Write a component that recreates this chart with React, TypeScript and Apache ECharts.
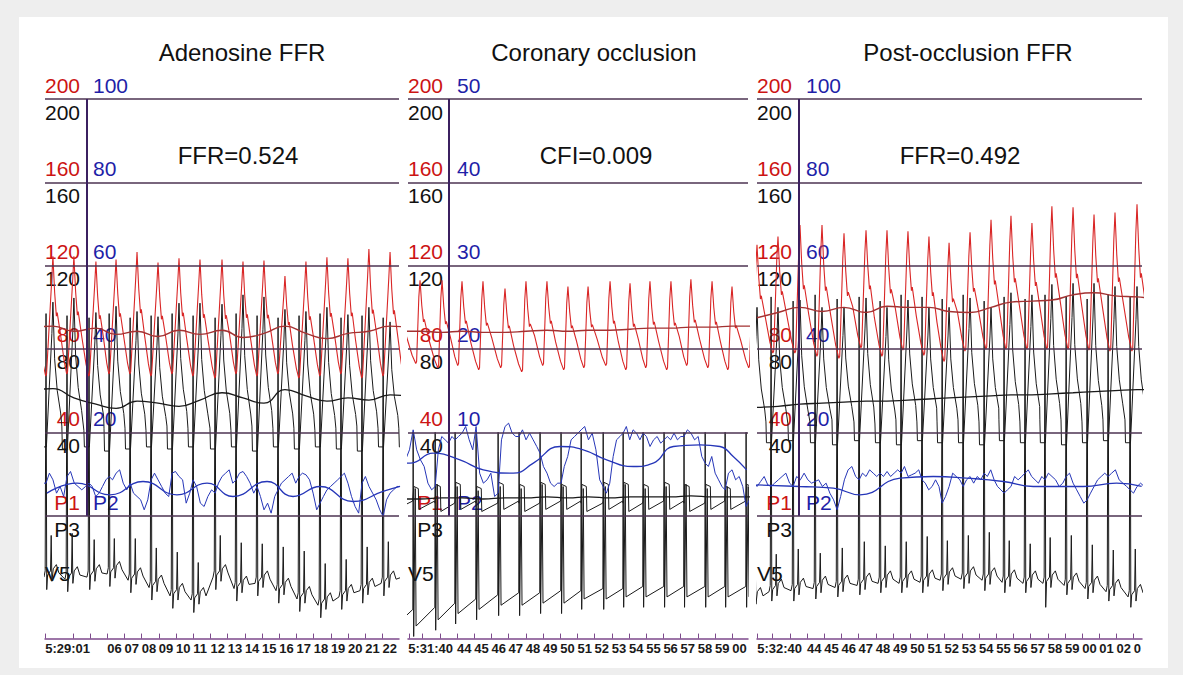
import React, { useEffect, useRef } from "react";
import * as echarts from "echarts";

const W = 1183;
const H = 675;
const FONT = '"Liberation Sans", Arial, Helvetica, sans-serif';
const GRID_TOP = 99;
const Y_MIN = -59;
const Y_MAX = 200;
const PX_PER_UNIT = 2.0833;
const GRID_H = (Y_MAX - Y_MIN) * PX_PER_UNIT;
const R_OFFSET = 0.4;

// ---------- shared labels ----------
const TITLES = ["Adenosine FFR", "Coronary occlusion", "Post-occlusion FFR"];
const INDEX_TEXT = ["FFR=0.524", "CFI=0.009", "FFR=0.492"];
const PRESSURE_TICKS = [200, 160, 120, 80, 40];
const RED_LABELS = ["200", "160", "120", "80", "40"];
const BLACK_LABELS = ["200", "160", "120", "80", "40"];
const BLUE_LABELS_1 = ["100", "80", "60", "40", "20"];
const BLUE_LABELS_2 = ["50", "40", "30", "20", "10"];
const BLUE_LABELS_3 = ["100", "80", "60", "40", "20"];

// ---------- panel 1: Adenosine FFR ----------
const P1_TP = [1.62, 2.84, 4.06, 5.34, 6.51, 7.73, 8.95, 10.17, 11.39, 12.67, 13.89, 15.11, 16.33, 17.55, 18.77, 19.99, 21.21, 22.44, 23.65];
const P1_PA_SYS = [122, 124.5, 124.5, 122, 123, 126.5, 121.5, 123.5, 123, 123, 122, 122.5, 115, 122, 124, 123.5, 128, 126.5, 124];
const P1_PA_DIA = [68, 67, 68, 67, 68, 68, 67, 68, 67, 66, 68, 67, 68, 66, 67, 68, 66, 67, 67];
const P1_PA_MEAN = [90, 91, 88.5, 90, 87, 88.5, 86, 89, 87, 89, 85.5, 87.5, 91, 87.5, 85, 87.5, 88.5, 91, 90];
const P1_PD_SYS = [100, 102.5, 104.5, 97.5, 100.5, 98, 95.5, 102, 102, 101.5, 106, 105, 99, 98, 100, 96.5, 100, 93, 98];
const P1_PD_DIP = [33, 33, 32, 33, 31, 32, 33, 32, 33, 32, 33, 31, 33, 32, 33, 32, 31, 33, 33];
const P1_PD_PLAT = [43, 42, 43, 41, 42, 42, 41, 43, 42, 42, 41, 43, 42, 42, 41, 42, 43, 42, 42];
const P1_PD_MEAN = [60, 61, 56.5, 53.5, 51.5, 55, 54, 52.5, 55.5, 59, 56.5, 54, 60.5, 57.5, 55, 56.5, 55.5, 58, 57];
const P1_ECG_BASE = [-27.5, -27.5, -28.5, -27.5, -26, -29, -32.5, -36.5, -38.5, -27.5, -33, -30.5, -34, -38, -41, -37, -34, -30.5, -27.5];
const P1_ECG_R = [96, 97, 96, 95, 97, 95, 96, 97, 96, 95, 97, 96, 95, 96, 97, 95, 96, 95, 96];
const P1_ECG_S = [-35.5, -35.5, -36.5, -35.5, -34, -37, -40.5, -44.5, -46.5, -35.5, -41, -38.5, -42, -46, -49, -45, -42, -38.5, -35.5];
const P1_ECG_T = [17, 18, 20, 16, 15, 18, 17, 19, 16, 18, 20, 17, 19, 21, 18, 16, 19, 18, 17];
const P1_FLOW = [
  [7.0, 7.4, 7.8, 7.0, 7.4, 7.8],
  [7.8, 10.2, 8.6, 5.4, 7.0, 4.6],
  [9.4, 10.6, 7.8, 7.0, 6.2, 7.0],
  [7.8, 7.0, 4.6, 5.4, 7.0, 8.6],
  [9.4, 8.6, 10.2, 11.0, 7.8, 6.2],
  [7.8, 5.4, 4.6, 3.8, 1.4, 3.8],
  [8.6, 10.2, 8.6, 7.0, 5.4, 4.6],
  [10.2, 10.6, 9.4, 8.6, 3.0, 5.4],
  [8.6, 7.0, 3.0, 2.2, 4.6, 6.2],
  [5.4, 7.8, 9.4, 10.2, 11.0, 7.8],
  [8.6, 10.2, 10.6, 9.4, 7.8, 5.4],
  [7.0, 4.6, 1.4, 3.0, 0.6, 4.6],
  [6.2, 7.8, 8.6, 9.4, 10.2, 7.8],
  [9.4, 10.2, 9.8, 8.6, 5.4, 1.4],
  [3.0, 4.6, 6.2, 7.0, 7.8, 8.6],
  [9.4, 10.2, 7.8, 4.6, 2.2, 0.6],
  [7.8, 9.4, 7.0, 5.4, 3.8, 1.4],
  [-0.2, 3.8, 5.4, 6.2, 7.0, 7.0],
  [7.0, 7.4, 7.8, 7.0, 6.6, 7.0],
];
const P1_FLOW_MEAN = [[2.49, 5.4], [4.24, 7.8], [6.16, 5.0], [8.08, 8.2], [10.05, 5.0], [11.8, 7.8], [13.31, 4.6], [15.29, 8.2], [16.8, 4.6], [18.37, 7.0], [20.29, 3.4], [22.03, 5.8], [23.02, 7.0]];

// ---------- panel 2: Coronary occlusion ----------
const P2_TP = [40.51, 41.85, 43.13, 44.29, 45.51, 46.79, 48.01, 49.23, 50.45, 51.62, 52.9, 54.06, 55.22, 56.44, 57.6, 58.83, 59.99, 61.21];
const P2_PA_SYS = [112, 113, 113, 112.5, 112.5, 109, 112.5, 112.5, 110, 110, 112.5, 111.5, 112.5, 112.5, 113.5, 112.5, 110, 112];
const P2_PA_DIA = [72, 73, 71, 72, 70, 71, 69, 72, 70, 71, 72, 70, 71, 70, 72, 71, 70, 71];
const P2_PA_MEAN = [88.5, 88.5, 88, 88.5, 88, 88, 88.5, 89, 88.5, 89, 89, 89.5, 90, 90, 90.5, 90.5, 91, 91];
const P2_PW_HIGH = [15, 14, 15, 16, 14, 16, 15, 16, 15, 15, 16, 16, 15, 16, 15, 15, 14, 15];
const P2_PW_LOW = [3, 3, 2, 3, 2, 3, 2, 3, 3, 2, 3, 2, 3, 3, 2, 3, 3, 3];
const P2_PW_MEAN = [8, 8, 8.5, 8.5, 8, 8.5, 8.5, 9, 8.5, 9, 8.5, 9, 9, 9, 9.5, 9, 9, 9];
const P2_ECG_TOP = [40, 40, 40, 40, 40, 40, 40, 40, 40, 40, 40, 40, 40, 40, 40, 40, 40, 40];
const P2_ECG_S = [-59, -58, -55, -52, -50, -48, -48, -47, -47, -45, -45, -44, -44, -44, -44, -44, -44, -44];
const P2_ECG_J = [14, 13, 15, 14, 12, 14, 13, 15, 14, 13, 14, 15, 13, 14, 15, 13, 14, 14];
const P2_ECG_END = [-45, -44, -42, -40, -38, -37, -37, -36, -36, -35, -35, -34, -34, -34, -34, -34, -34, -34];
const P2_FLOW = [
  [6.3, 6.7, 6.3, 5.9, 6.7, 7.9],
  [10.3, 7.9, 6.7, 5.9, 3.9, 3.1],
  [3.5, 7.9, 9.5, 9.1, 8.7, 9.5],
  [9.1, 9.5, 9.9, 10.7, 9.1, 7.9],
  [10.7, 5.1, 3.9, 4.3, 5.1, 2.3],
  [2.7, 9.1, 10.7, 11.1, 9.9, 9.5],
  [9.5, 10.3, 9.1, 9.9, 9.1, 8.3],
  [7.5, 5.9, 5.1, 3.9, 3.5, 3.9],
  [3.9, 5.9, 7.1, 9.1, 9.5, 9.9],
  [10.3, 10.7, 9.1, 9.9, 7.9, 4.3],
  [3.5, 2.7, 3.9, 7.1, 9.1, 9.5],
  [9.9, 10.7, 9.1, 10.3, 9.9, 9.1],
  [9.9, 9.5, 8.3, 9.1, 9.5, 8.7],
  [9.1, 9.5, 9.1, 9.9, 9.1, 9.5],
  [9.5, 10.3, 9.9, 9.1, 9.5, 7.1],
  [6.3, 5.9, 7.1, 5.1, 4.3, 3.5],
  [3.1, 5.1, 5.5, 4.3, 4.7, 3.5],
  [1.1, 1.9, 3.0, 4.0, 5.0, 6.0],
];
const P2_FLOW_MEAN = [[40.69, 6.3], [41.27, 6.3], [42.62, 7.5], [44.17, 6.7], [45.53, 5.5], [47.27, 5.1], [48.44, 6.3], [49.99, 8.3], [51.34, 7.9], [52.7, 6.7], [54.25, 5.9], [55.41, 6.3], [56.58, 8.3], [58.13, 8.5], [59.29, 8.3], [60.06, 7.1], [60.84, 5.5]];

// ---------- panel 3: Post-occlusion FFR ----------
const P3_TP = [41.09, 42.31, 43.59, 44.87, 46.15, 47.43, 48.65, 49.87, 51.09, 52.26, 53.48, 54.7, 55.86, 57.08, 58.24, 59.47, 60.69, 61.91, 63.19, 64.41];
const P3_PA_SYS = [130, 134, 139.5, 139.5, 135.5, 137, 137, 136.5, 134, 131, 136, 142, 144, 140.5, 148.5, 148, 144.5, 145.5, 149.5, 146];
const P3_PA_DIA = [78, 78, 78, 76.5, 75.5, 80.5, 76.5, 79.5, 77, 74, 79, 80, 80, 80, 80, 80, 79.5, 79, 79, 79];
const P3_PA_MEAN = [95, 97.5, 100, 98, 100, 97.5, 100.5, 100, 100, 98, 97.5, 100, 102.5, 103, 103.5, 106, 107, 105.5, 105, 104];
const P3_PD_SYS = [100, 100, 103.5, 100, 100, 104.5, 100, 103.5, 100, 100, 104.5, 100, 107, 106, 111, 111.5, 111.5, 110, 110, 110];
const P3_PD_DIP = [36, 35, 36, 35, 34, 36, 35, 34, 36, 35, 35, 34, 36, 35, 35, 34, 35, 36, 35, 35];
const P3_PD_PLAT = [44, 45, 44, 45, 46, 45, 44, 46, 45, 45, 46, 45, 46, 45, 46, 46, 45, 46, 46, 46];
const P3_PD_MEAN = [52, 52.5, 53.5, 54, 54.5, 55, 55, 55.5, 56, 56.5, 57, 57.5, 58, 58, 58.5, 59, 59.5, 60, 60.5, 60.5];
const P3_ECG_BASE = [-38.5, -34.5, -34, -33, -32.5, -31.5, -30.5, -30.5, -30, -29, -28.5, -29, -30, -30.5, -30.5, -31.5, -33, -34.5, -37, -38];
const P3_ECG_R = [104, 105, 103, 106, 104, 105, 103, 106, 105, 104, 106, 103, 105, 104, 106, 105, 104, 106, 105, 104];
const P3_ECG_S = [-45, -41, -41, -40, -39, -38, -37, -37, -37, -36, -35, -36, -37, -37, -44, -38, -40, -41, -44, -45];
const P3_ECG_T = [14, 16, 18, 15, 17, 19, 16, 18, 20, 17, 19, 21, 18, 17, 20, 22, 19, 18, 21, 16];
const P3_FLOW = [
  [7.8, 8.6, 7.0, 8.2, 9.4, 7.4],
  [7.0, 7.8, 8.6, 9.4, 10.2, 7.8],
  [7.0, 9.4, 8.6, 10.2, 8.6, 7.8],
  [8.2, 8.6, 7.0, 7.8, 5.4, 3.8],
  [1.4, 4.6, 8.6, 11.0, 11.8, 9.4],
  [8.6, 10.2, 9.4, 11.0, 10.2, 9.4],
  [10.2, 9.4, 10.6, 9.4, 10.2, 11.0],
  [10.2, 11.8, 9.4, 9.8, 10.2, 11.0],
  [8.6, 7.8, 6.2, 7.0, 8.6, 7.0],
  [3.0, 4.6, 7.0, 10.2, 9.4, 8.6],
  [7.0, 8.6, 9.4, 7.8, 9.4, 8.6],
  [10.2, 9.4, 11.0, 8.6, 7.0, 6.2],
  [5.4, 6.2, 7.0, 9.4, 8.6, 9.4],
  [10.2, 11.0, 9.4, 8.6, 7.8, 9.4],
  [8.6, 10.2, 9.4, 8.6, 7.0, 7.8],
  [9.4, 10.2, 7.8, 6.2, 4.6, 3.0],
  [3.8, 5.4, 7.0, 8.6, 9.4, 10.2],
  [9.4, 10.2, 11.0, 8.6, 7.8, 7.0],
  [6.2, 5.4, 7.0, 7.8, 7.0, 7.0],
  [7.0, 7.4, 7.8, 7.0, 7.4, 7.0],
];
const P3_FLOW_MEAN = [[41.08, 7.4], [43.59, 7.0], [45.53, 6.6], [47.08, 5.0], [49.41, 9.0], [51.34, 9.4], [53.29, 9.0], [55.41, 8.2], [57.16, 7.0], [60.06, 7.0], [62.0, 7.8], [63.46, 7.0]];

// ---------- colours ----------
const RED = "#d92626";
const RED_MEAN = "#a33232";
const BLACK = "#1a1a1a";
const BLUE = "#2636b8";
const RED_TXT = "#cc1414";
const BLUE_TXT = "#1f1fa8";
const GRIDLINE = "#4d3352";
const MARKER = "#3b2060";
const AXIS = "#7d4a8c";

type Pt = [number, number];

function paWave(tp: number[], sys: number[], dia: number[], up: number): Pt[] {
  const out: Pt[] = [];
  for (let i = 0; i < tp.length; i++) {
    const t = tp[i], s = sys[i], d = dia[i], a = s - d;
    const last = i + 1 >= tp.length;
    const nt = last ? t + 0.85 : tp[i + 1] - up;
    const nd = last ? d : dia[i + 1];
    out.push([t - up, d]);
    out.push([t - up + 0.05, d + 1]);
    out.push([t - 0.07, d + a * 0.8]);
    out.push([t, s]);
    out.push([t + 0.1, d + a * 0.7]);
    out.push([t + 0.2, d + a * 0.5]);
    out.push([t + 0.25, d + a * 0.53]);
    const span = nt - (t + 0.25);
    out.push([t + 0.25 + span * 0.35, nd + a * 0.33]);
    out.push([t + 0.25 + span * 0.75, nd + a * 0.1]);
    if (last) out.push([nt, nd]);
  }
  return out;
}

function pdWave(tp: number[], sys: number[], dip: number[], plat: number[]): Pt[] {
  const out: Pt[] = [];
  for (let i = 0; i < tp.length; i++) {
    const t = tp[i], R = t - R_OFFSET, a = sys[i] - plat[i];
    out.push([R - 0.3, plat[i]]);
    out.push([R - 0.27, dip[i]]);
    out.push([R + 0.02, dip[i]]);
    out.push([t - 0.06, plat[i] + a * 0.75]);
    out.push([t, sys[i]]);
    out.push([t + 0.1, plat[i] + a * 0.55]);
    out.push([t + 0.25, plat[i] + a * 0.3]);
    out.push([t + 0.45, plat[i] + a * 0.12]);
  }
  return out;
}

function pwWave(tp: number[], high: number[], low: number[]): Pt[] {
  const out: Pt[] = [];
  for (let i = 0; i < tp.length; i++) {
    const R = tp[i] - R_OFFSET;
    const nR = i + 1 < tp.length ? tp[i + 1] - R_OFFSET : R + 1.22;
    out.push([R, low[i] + 4]);
    out.push([R + 0.04, high[i]]);
    out.push([R + 0.3, high[i] - 1]);
    out.push([R + 0.33, low[i]]);
    out.push([nR - 0.03, low[i] + 4]);
  }
  return out;
}

function ecgWave(tp: number[], base: number[], top: number[], sb: number[], tAmp: number[]): Pt[] {
  const out: Pt[] = [];
  for (let i = 0; i < tp.length; i++) {
    const R = tp[i] - R_OFFSET, b = base[i];
    const last = i + 1 >= tp.length;
    const nR = last ? R + 1.22 : tp[i + 1] - R_OFFSET;
    const nb = last ? b : base[i + 1];
    out.push([R - 0.05, b + 1]);
    out.push([R, top[i]]);
    out.push([R + 0.04, sb[i]]);
    out.push([R + 0.09, b - 1]);
    out.push([R + 0.26, b + 1]);
    out.push([R + 0.3, b + tAmp[i]]);
    out.push([R + 0.34, b - 4]);
    out.push([R + 0.42, b + 2]);
    out.push([R + 0.6, b + 4]);
    out.push([R + 0.75, b]);
    out.push([nR - 0.12, nb - 2]);
  }
  return out;
}

function ecgSawWave(tp: number[], top: number[], sb: number[], j: number[], end: number[]): Pt[] {
  const out: Pt[] = [];
  for (let i = 0; i < tp.length; i++) {
    const R = tp[i] - R_OFFSET;
    const nR = i + 1 < tp.length ? tp[i + 1] - R_OFFSET : R + 1.22;
    out.push([R, top[i]]);
    out.push([R + 0.03, sb[i]]);
    out.push([R + 0.12, j[i]]);
    out.push([R + 0.17, sb[i] + 5]);
    out.push([nR - 0.02, end[i]]);
  }
  return out;
}

const FRACS = [0, 0.16, 0.33, 0.5, 0.67, 0.84];
function flowWave(tp: number[], beats: number[][], scale: number): Pt[] {
  const out: Pt[] = [];
  for (let i = 0; i < tp.length; i++) {
    const R = tp[i] - R_OFFSET;
    const d = i + 1 < tp.length ? tp[i + 1] - tp[i] : 1.22;
    beats[i].forEach((v, k) => out.push([R + FRACS[k] * d, v * scale]));
  }
  return out;
}

const meanLine = (tp: number[], m: number[]): Pt[] => tp.map((t, i) => [t, m[i]] as Pt);
const scaled = (pairs: number[][], s: number): Pt[] => pairs.map((p) => [p[0], p[1] * s] as Pt);
const lineY = (v: number) => GRID_TOP + (Y_MAX - v) * PX_PER_UNIT;
const pad2 = (v: number) => String(Math.round(v) % 60).padStart(2, "0");

const range = (a: number, b: number) => {
  const r: number[] = [];
  for (let v = a; v <= b; v++) r.push(v);
  return r;
};

interface Panel {
  left: number;
  width: number;
  min: number;
  max: number;
  marker: number;
  labelRight: number;
  blueLeft: number;
  blueLabels: string[];
  ticks: number[];
  labels: number[];
  fmt: (v: number) => string;
  titleX: number;
  indexX: number;
  waves: { data: Pt[]; color: string; width: number; smooth?: boolean }[];
}

function buildOption() {
  const panels: Panel[] = [
    {
      left: 45, width: 354, min: 2.38, max: 22.96, marker: 4.82,
      labelRight: 80, blueLeft: 93, blueLabels: BLUE_LABELS_1,
      ticks: [2.4, ...range(4, 22)], labels: [2.39, ...range(6, 22)],
      fmt: (v) => (v < 3 ? "5:29:01" : pad2(v)),
      titleX: 242, indexX: 238,
      waves: [
        { data: ecgWave(P1_TP, P1_ECG_BASE, P1_ECG_R, P1_ECG_S, P1_ECG_T), color: BLACK, width: 1 },
        { data: pdWave(P1_TP, P1_PD_SYS, P1_PD_DIP, P1_PD_PLAT), color: BLACK, width: 1 },
        { data: meanLine(P1_TP, P1_PD_MEAN), color: BLACK, width: 1.3, smooth: true },
        { data: paWave(P1_TP, P1_PA_SYS, P1_PA_DIA, 0.42), color: RED, width: 1.1 },
        { data: meanLine(P1_TP, P1_PA_MEAN), color: RED_MEAN, width: 1.4, smooth: true },
        { data: flowWave(P1_TP, P1_FLOW, 2), color: BLUE, width: 1 },
        { data: scaled(P1_FLOW_MEAN, 2), color: BLUE, width: 1.3, smooth: true },
      ],
    },
    {
      left: 408, width: 340, min: 41.15, max: 60.92, marker: 43.53,
      labelRight: 443, blueLeft: 457, blueLabels: BLUE_LABELS_2,
      ticks: [41.2, ...range(42, 60)], labels: [41.16, ...range(44, 60)],
      fmt: (v) => (v < 42 ? "5:31:40" : pad2(v)),
      titleX: 594, indexX: 596,
      waves: [
        { data: ecgSawWave(P2_TP, P2_ECG_TOP, P2_ECG_S, P2_ECG_J, P2_ECG_END), color: BLACK, width: 1 },
        { data: pwWave(P2_TP, P2_PW_HIGH, P2_PW_LOW), color: BLACK, width: 1 },
        { data: meanLine(P2_TP, P2_PW_MEAN), color: BLACK, width: 1.3, smooth: true },
        { data: paWave(P2_TP, P2_PA_SYS, P2_PA_DIA, 0.25), color: RED, width: 1.1 },
        { data: meanLine(P2_TP, P2_PA_MEAN), color: RED_MEAN, width: 1.4, smooth: true },
        { data: flowWave(P2_TP, P2_FLOW, 4), color: BLUE, width: 1 },
        { data: scaled(P2_FLOW_MEAN, 4), color: BLUE, width: 1.3, smooth: true },
      ],
    },
    {
      left: 757, width: 385, min: 41.09, max: 63.48, marker: 43.53,
      labelRight: 792, blueLeft: 806, blueLabels: BLUE_LABELS_3,
      ticks: [41.1, ...range(42, 63)], labels: [41.1, ...range(44, 63)],
      fmt: (v) => (v < 42 ? "5:32:40" : v > 62.5 ? "0" : pad2(v)),
      titleX: 968, indexX: 960,
      waves: [
        { data: ecgWave(P3_TP, P3_ECG_BASE, P3_ECG_R, P3_ECG_S, P3_ECG_T), color: BLACK, width: 1 },
        { data: pdWave(P3_TP, P3_PD_SYS, P3_PD_DIP, P3_PD_PLAT), color: BLACK, width: 1 },
        { data: meanLine(P3_TP, P3_PD_MEAN), color: BLACK, width: 1.3, smooth: true },
        { data: paWave(P3_TP, P3_PA_SYS, P3_PA_DIA, 0.3), color: RED, width: 1.1 },
        { data: meanLine(P3_TP, P3_PA_MEAN), color: RED_MEAN, width: 1.4, smooth: true },
        { data: flowWave(P3_TP, P3_FLOW, 2), color: BLUE, width: 1 },
        { data: scaled(P3_FLOW_MEAN, 2), color: BLUE, width: 1.3, smooth: true },
      ],
    },
  ];

  const grid: any[] = [];
  const xAxis: any[] = [];
  const yAxis: any[] = [];
  const series: any[] = [];
  const graphic: any[] = [
    { type: "rect", z: -10, shape: { x: 19, y: 17, width: 1149, height: 651 }, style: { fill: "#ffffff" }, silent: true },
  ];

  const txt = (text: string, x: number, y: number, fill: string, align: string, size: number) => ({
    type: "text",
    x,
    y,
    silent: true,
    style: {
      text,
      fill,
      font: `${size}px ${FONT}`,
      textAlign: align,
      textVerticalAlign: "middle",
      align,
      verticalAlign: "middle",
    },
  });

  panels.forEach((p, k) => {
    grid.push({ left: p.left, width: p.width, top: GRID_TOP, height: GRID_H, containLabel: false });
    xAxis.push({
      gridIndex: k,
      type: "value",
      min: p.min,
      max: p.max,
      axisLine: { show: true, onZero: false, lineStyle: { color: AXIS, width: 1.5 } },
      axisTick: { show: true, inside: true, length: 5, customValues: p.ticks, lineStyle: { color: AXIS, width: 1 } },
      axisLabel: {
        show: true,
        customValues: p.labels,
        formatter: (v: number) => p.fmt(v),
        align: "left",
        margin: 3,
        color: "#1a1a1a",
        fontSize: 13,
        fontWeight: "bold",
        fontFamily: FONT,
      },
      splitLine: { show: false },
    });
    yAxis.push({ gridIndex: k, type: "value", min: Y_MIN, max: Y_MAX, show: false });

    series.push({
      type: "line",
      xAxisIndex: k,
      yAxisIndex: k,
      data: [],
      silent: true,
      z: 1,
      markLine: {
        silent: true,
        symbol: ["none", "none"],
        label: { show: false },
        animation: false,
        lineStyle: { color: GRIDLINE, width: 1.5, type: "solid" },
        data: [
          ...[...PRESSURE_TICKS, 0].map((v) => ({ yAxis: v })),
          [
            { coord: [p.marker, 200], lineStyle: { color: MARKER, width: 2, type: "solid" } },
            { coord: [p.marker, 0] },
          ],
        ],
      },
    });

    p.waves.forEach((w) => {
      series.push({
        type: "line",
        xAxisIndex: k,
        yAxisIndex: k,
        data: w.data,
        showSymbol: false,
        symbol: "none",
        smooth: w.smooth ? 0.5 : false,
        silent: true,
        z: 2,
        lineStyle: { color: w.color, width: w.width },
      });
    });

    // axis-side labels
    PRESSURE_TICKS.forEach((v, j) => {
      graphic.push(txt(RED_LABELS[j], p.labelRight, lineY(v) - 14, RED_TXT, "right", 21));
      graphic.push(txt(p.blueLabels[j], p.blueLeft, lineY(v) - 14, BLUE_TXT, "left", 21));
      graphic.push(txt(BLACK_LABELS[j], p.labelRight, lineY(v) + 13, "#111", "right", 21));
    });
    graphic.push(txt("P1", p.labelRight, lineY(0) - 13, RED_TXT, "right", 21));
    graphic.push(txt("P2", p.blueLeft, lineY(0) - 13, BLUE_TXT, "left", 21));
    graphic.push(txt("P3", p.labelRight, lineY(0) + 14, "#111", "right", 21));
    graphic.push(txt("V5", p.left, 573, "#111", "left", 21));
    graphic.push(txt(TITLES[k], p.titleX, 52, "#111", "center", 24));
    graphic.push(txt(INDEX_TEXT[k], p.indexX, 155, "#111", "center", 24));
  });

  return {
    animation: false,
    backgroundColor: "#eeeeee",
    grid,
    xAxis,
    yAxis,
    series,
    graphic,
  };
}

export default function App() {
  const ref = useRef<HTMLDivElement>(null);
  useEffect(() => {
    if (!ref.current) return;
    const chart = echarts.init(ref.current, null, { renderer: "svg" });
    chart.setOption(buildOption() as any);
    return () => chart.dispose();
  }, []);
  return (
    <div
      ref={ref}
      style={{ position: "fixed", left: 0, top: 0, width: W, height: H, background: "#eeeeee" }}
    />
  );
}
